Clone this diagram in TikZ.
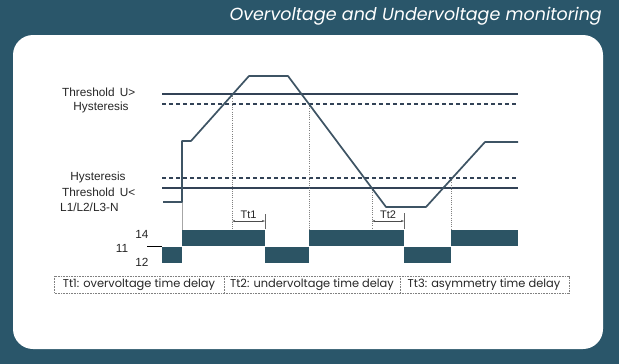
\documentclass[tikz,border=0pt]{standalone}
\usepackage{fontspec}
\setmainfont{Liberation Sans}
\newfontfamily\gothic{Poppins}
\usetikzlibrary{arrows.meta}
\definecolor{bgcolor}{RGB}{42,86,106}
\definecolor{barcolor}{RGB}{44,84,100}
\definecolor{curvecolor}{RGB}{62,84,100}
\definecolor{linecolor}{RGB}{50,66,86}
\tikzset{
  thres/.style = {draw = linecolor, line width = 1.4pt},
  hyst/.style = {thres, dash pattern = on 4pt off 3pt},
  guide/.style = {draw = gray, dash pattern = on 1pt off 1.2pt, line width = 0.5pt},
  lbl/.style = {font = \fontsize{11.8}{13}\selectfont, text = black!85, inner sep = 0pt},
  cell/.style = {font = \gothic\fontsize{11.4}{14}\selectfont, text = black!85, inner sep = 0pt},
  dim/.style = {draw = black!70, line width = 0.5pt, {Stealth[length=3pt,width=2pt]}-{Stealth[length=3pt,width=2pt]}}
}
\begin{document}
\begin{tikzpicture}[x = 1pt, y = -1pt]
\useasboundingbox (0,0) rectangle (619,364);
% background and panel
\fill [bgcolor] (0,0) rectangle (619,364);
\fill [white, rounded corners = 20pt] (13,35) rectangle (603,349);
\node [anchor = east, text = white, font = \gothic\itshape\fontsize{17.5}{20}\selectfont, inner sep = 0pt] (title) at (602,16) {Overvoltage and Undervoltage monitoring};
% labels
\node [lbl, anchor = west] (tup) at (62,92) {Threshold\, U>};
\node [lbl] (hup) at (101,107) {Hysteresis};
\node [lbl] (hlo) at (98,177) {Hysteresis};
\node [lbl, anchor = west] (tlo) at (62,192) {Threshold\, U<};
\node [lbl, anchor = west] (phase) at (60,207) {L1/L2/L3-N};
\node [lbl] (c14) at (142,234) {14};
\node [lbl] (c11) at (122,248) {11};
\node [lbl] (c12) at (142,262) {12};
% threshold and hysteresis levels
\coordinate (tupA) at (162,94);  \coordinate (tupB) at (518,94);
\coordinate (hupA) at (162,104); \coordinate (hupB) at (518,104);
\coordinate (hloA) at (162,178); \coordinate (hloB) at (518,178);
\coordinate (tloA) at (162,188); \coordinate (tloB) at (518,188);
\draw [thres] (tupA) -- (tupB);
\draw [hyst] (hupA) -- (hupB);
\draw [hyst] (hloA) -- (hloB);
\draw [thres] (tloA) -- (tloB);
% guide lines down to the relay
\foreach \x/\y in {232/94, 309/104, 372/188, 451/178}
  \draw [guide] (\x,\y) -- (\x,230);
\draw [draw = gray!70, line width = 0.4pt] (182,202) -- (182,230);
% voltage curve
\coordinate (v0) at (163,202);
\coordinate (v1) at (182,202);
\coordinate (v2) at (182,141);
\coordinate (v3) at (191,141);
\coordinate (v4) at (249,76);
\coordinate (v5) at (288,76);
\coordinate (v6) at (386,207);
\coordinate (v7) at (426,207);
\coordinate (v8) at (485,142);
\coordinate (v9) at (518,142);
\draw [draw = curvecolor, line width = 1.7pt, line join = round] (v0) -- (v1) -- (v2) -- (v3) -- (v4) -- (v5) -- (v6) -- (v7) -- (v8) -- (v9);
% delay times
\coordinate (d1a) at (232,221); \coordinate (d1b) at (265,221);
\coordinate (d2a) at (372,221); \coordinate (d2b) at (404,221);
\draw [dim] (d1a) -- (d1b) node [midway, above = 2pt, lbl, font = \fontsize{11}{12}\selectfont] (tt1) {Tt1};
\draw [dim] (d2a) -- (d2b) node [midway, above = 2pt, lbl, font = \fontsize{11}{12}\selectfont] (tt2) {Tt2};
\draw [draw = black!60, line width = 0.4pt] (265,214) -- (265,229);
\draw [draw = black!60, line width = 0.4pt] (404,213) -- (404,229);
% relay contacts
\draw [black, line width = 0.8pt] (147,246) -- (162,246);
\foreach \a/\b/\t in {162/182/247, 182/265/230, 265/309/247, 309/404/230, 404/451/247, 451/518/230}
  \fill [barcolor] (\a,\t) rectangle (\b,\t+16);
% legend
\draw [draw = gray, line width = 0.5pt, dash pattern = on 1pt off 0.6pt] (54,276) rectangle (569,293);
\draw [draw = gray, line width = 0.5pt, dash pattern = on 1pt off 0.6pt] (224,276) -- (224,293);
\draw [draw = gray, line width = 0.5pt, dash pattern = on 1pt off 0.6pt] (400,276) -- (400,293);
\node [cell] (lg1) at (139,285) {Tt1: overvoltage time delay};
\node [cell] (lg2) at (312,285) {Tt2: undervoltage time delay};
\node [cell] (lg3) at (484,285) {Tt3: asymmetry time delay};
\end{tikzpicture}
\end{document}
